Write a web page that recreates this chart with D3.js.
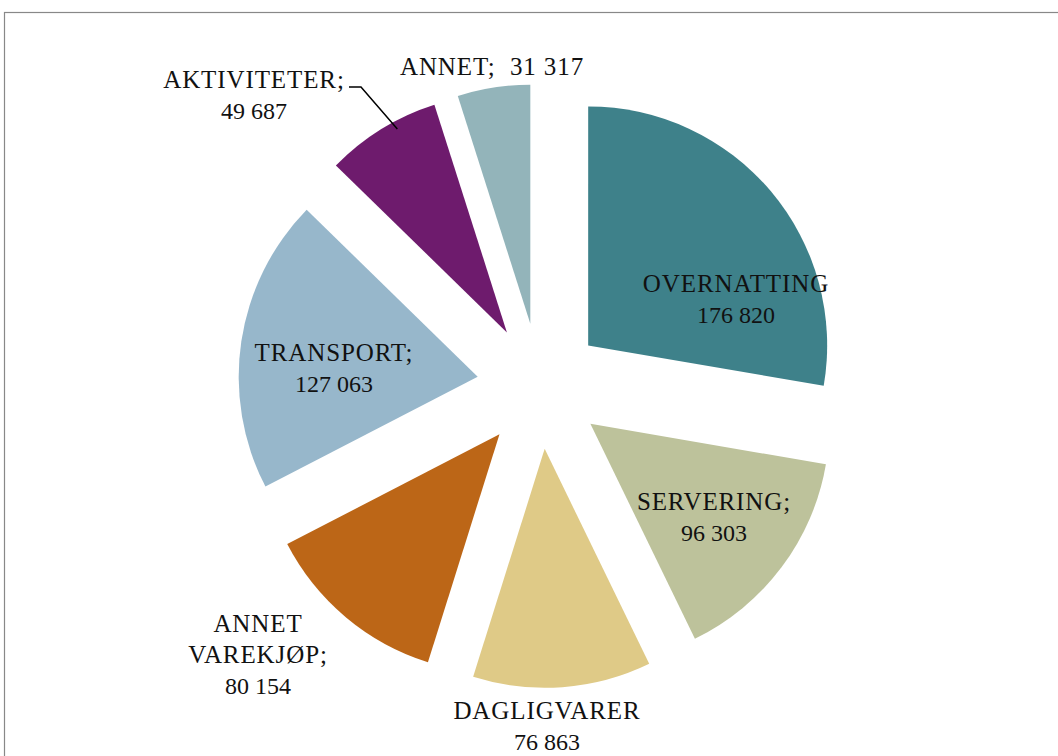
<!DOCTYPE html>
<html>
<head>
<meta charset="utf-8">
<script src="https://cdn.jsdelivr.net/npm/d3@7"></script>
<style>
  body { margin: 0; background: #fff; }
</style>
</head>
<body>
<div id="chart"></div>
<script>
// slice data, clockwise from 12 o'clock
var categories = ["OVERNATTING", "SERVERING", "DAGLIGVARER", "ANNET VAREKJØP", "TRANSPORT", "AKTIVITETER", "ANNET"];
var values = [176820, 96303, 76863, 80154, 127063, 49687, 31317];
var labelLines = [
	["OVERNATTING", "176 820"],
	["SERVERING;", "96 303"],
	["DAGLIGVARER", "76 863"],
	["ANNET", "VAREKJØP;", "80 154"],
	["TRANSPORT;", "127 063"],
	["AKTIVITETER;", "49 687"],
	["ANNET;\u00a0\u00a031 317"]
];
var colors = ["#3e818a", "#bdc29b", "#dfca87", "#bc6617", "#97b7cb", "#6e1b6d", "#93b4ba"];

// label anchor points (layout only)
var labelPos = [[736, 284], [714, 502], [547, 711], [258, 624], [334, 353], [254, 80], [492, 67]];

var width = 1058, height = 756;
var cx = 540, cy = 386, radius = 239, explode = 63;

var svg = d3.select("#chart")
	.append("svg")
	.attr("width", width)
	.attr("height", height);

// chart frame
svg.append("rect")
	.attr("x", 4.5)
	.attr("y", 12.5)
	.attr("width", width + 20)
	.attr("height", height + 20)
	.attr("fill", "none")
	.attr("stroke", "#888")
	.attr("stroke-width", 1.2);

var pie = d3.pie().sort(null).value(function(d) { return d; });
var arc = d3.arc().innerRadius(0).outerRadius(radius);

var slices = pie(values);

var g = svg.append("g")
	.attr("transform", "translate(" + cx + "," + cy + ")");

g.selectAll("path")
	.data(slices)
	.enter()
	.append("path")
	.attr("d", arc)
	.attr("fill", function(d, i) { return colors[i]; })
	.attr("transform", function(d) {
		var a = (d.startAngle + d.endAngle) / 2;
		return "translate(" + (Math.sin(a) * explode) + "," + (-Math.cos(a) * explode) + ")";
	});

// leader line for AKTIVITETER
var ak = slices[5];
var akMid = (ak.startAngle + ak.endAngle) / 2;
var akA = ak.startAngle + (ak.endAngle - ak.startAngle) * 0.62;
var akEdge = [cx + Math.sin(akMid) * explode + Math.sin(akA) * (radius - 8),
	cy - Math.cos(akMid) * explode - Math.cos(akA) * (radius - 8)];
svg.append("path")
	.attr("d", d3.line()([[349, 87], [361, 87], akEdge]))
	.attr("fill", "none")
	.attr("stroke", "#000")
	.attr("stroke-width", 1.5);

// labels, one text element per line
var lineH = 31;
labelLines.forEach(function(lines, i) {
	lines.forEach(function(s, j) {
		var hasLetters = /[A-ZØ]/.test(s);
		var t = svg.append("text")
			.attr("text-anchor", "middle")
			.attr("x", labelPos[i][0])
			.attr("y", labelPos[i][1] + 8 + j * lineH)
			.attr("fill", "#111")
			.style("font-family", "'Liberation Serif'")
			.style("font-size", hasLetters ? "25px" : "24px")
			.text(s);
		if (hasLetters) t.style("letter-spacing", "0.9px");
	});
});
</script>
</body>
</html>
